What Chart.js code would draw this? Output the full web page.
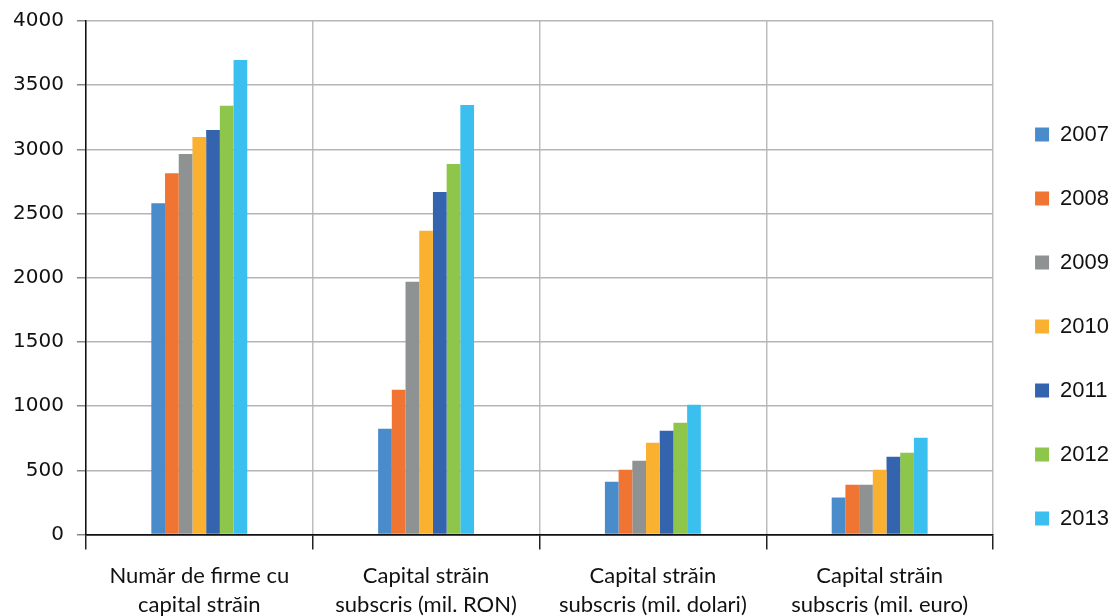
<!DOCTYPE html>
<html lang="ro">
<head>
    <meta charset="UTF-8">
    <title>Firme cu capital străin</title>
    <script src="https://cdn.jsdelivr.net/npm/chart.js"></script>
    <style>
        body { margin: 0; background: #fff; }
        #wrap { width: 1111px; height: 616px; }
    </style>
</head>
<body>
    <div id="wrap"><canvas id="chart"></canvas></div>
    <script>
        // categorii (axa x)
        var categories = [
            ['Număr de firme cu', 'capital străin'],
            ['Capital străin', 'subscris (mil. RON)'],
            ['Capital străin', 'subscris (mil. dolari)'],
            ['Capital străin', 'subscris (mil. euro)']
        ];
        var years = ['2007', '2008', '2009', '2010', '2011', '2012', '2013'];

        // valori, pe ani
        var v2007 = [2580, 825, 412, 288];
        var v2008 = [2815, 1128, 506, 389];
        var v2009 = [2965, 1969, 576, 389];
        var v2010 = [3097, 2366, 716, 506];
        var v2011 = [3152, 2669, 809, 607];
        var v2012 = [3339, 2887, 872, 638];
        var v2013 = [3696, 3346, 1012, 755];

        var yTicks = [0, 500, 1000, 1500, 2000, 2500, 3000, 3500, 4000];

        var colors = ['#4a8ccb', '#f07533', '#8e9293', '#fbb130', '#3464ae', '#8dc64b', '#3bbfee'];
        var series = [v2007, v2008, v2009, v2010, v2011, v2012, v2013];

        var datasets = years.map(function (y, i) {
            return {
                label: y,
                data: series[i],
                backgroundColor: colors[i],
                borderWidth: 0,
                categoryPercentage: 0.423,
                barPercentage: 1.0
            };
        });

        var ctx = document.getElementById('chart').getContext('2d');
        new Chart(ctx, {
            type: 'bar',
            data: { labels: categories, datasets: datasets },
            options: {
                responsive: true,
                maintainAspectRatio: false,
                animation: false,
                layout: { padding: { top: 0, right: -8, left: 0, bottom: -15 } },
                plugins: {
                    tooltip: { enabled: false },
                    legend: {
                        position: 'right',
                        // titlu gol doar ca sa coboare putin legenda
                        title: { display: true, text: ' ', padding: 5, font: { size: 10 } },
                        labels: {
                            boxWidth: 14,
                            boxHeight: 14,
                            padding: 42,
                            color: '#111',
                            font: { family: 'Liberation Sans', size: 22 }
                        }
                    }
                },
                scales: {
                    x: {
                        grid: {
                            color: '#bdbdbd',
                            tickColor: '#222',
                            tickLength: 15,
                            lineWidth: 1.5
                        },
                        border: { color: '#111', width: 1.5 },
                        ticks: {
                            color: '#111',
                            padding: 11,
                            maxRotation: 0,
                            font: { family: 'Lato', size: 22, lineHeight: 1.35 }
                        }
                    },
                    y: {
                        min: 0,
                        max: 4000,
                        afterBuildTicks: function (axis) {
                            axis.ticks = yTicks.map(function (v) { return { value: v }; });
                        },
                        grid: {
                            color: function (c) { return c.tick && c.tick.value === 0 ? '#111' : '#b5b5b5'; },
                            tickColor: '#888',
                            tickLength: 9,
                            lineWidth: 1.5
                        },
                        border: { color: '#111', width: 1.5 },
                        ticks: {
                            color: '#111',
                            padding: 13,
                            font: { family: 'DejaVu Sans', size: 20, lineHeight: 0.8 },
                            callback: function (v) { return String(v); }
                        }
                    }
                }
            }
        });
    </script>
</body>
</html>
